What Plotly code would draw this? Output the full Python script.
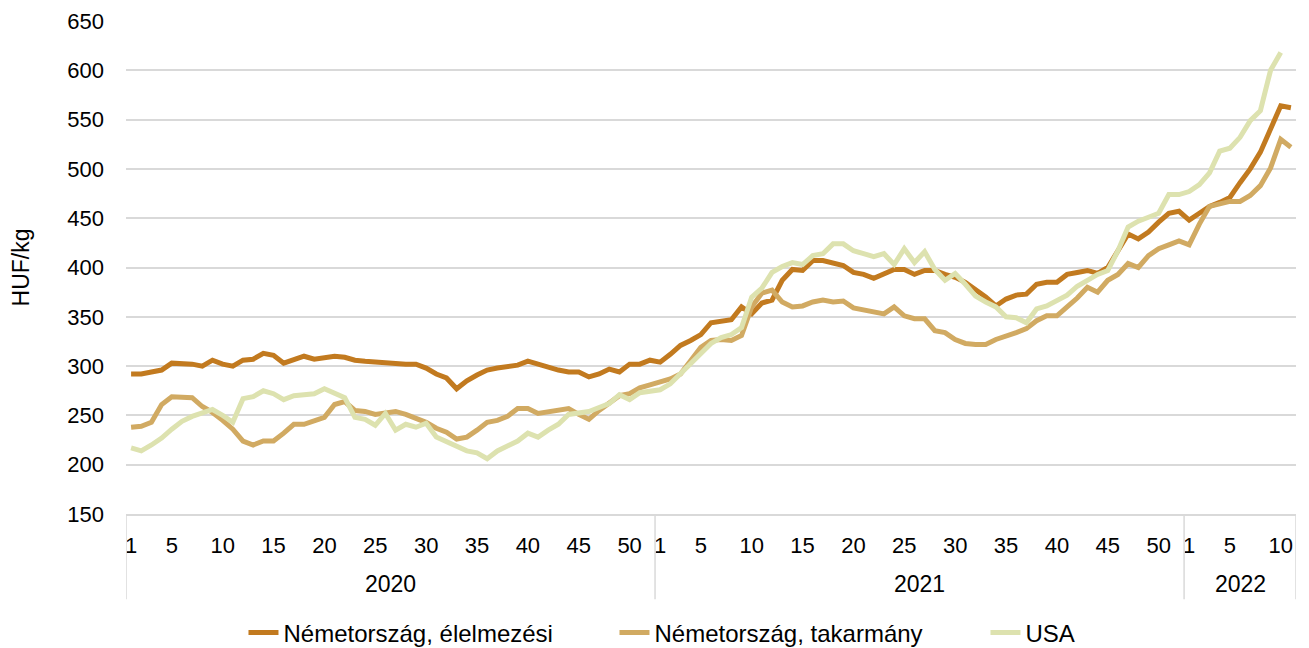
import plotly.graph_objects as go

# ── data, HUF/kg by week ──
YEARS = ["2020", "2021", "2022"]
WEEKS_PER_YEAR = [52, 52, 11]
TICK_WEEKS = [1, 5, 10, 15, 20, 25, 30, 35, 40, 45, 50]

NEMET_ELELMEZESI = [
    292, 292, 294, 296, 303, 303, 302, 300, 306, 302, 300, 306, 307, 313, 311, 303,
    307, 310, 307, 308, 310, 309, 306, 305, 304, 304, 303, 302, 302, 298, 292, 288,
    277, 285, 291, 296, 298, 300, 301, 305, 302, 298, 296, 294, 294, 289, 292, 297,
    294, 302, 302, 306,
    304, 312, 321, 326, 332, 344, 345, 347, 360, 353, 364, 367, 387, 398, 397, 407,
    407, 405, 402, 395, 393, 389, 393, 398, 398, 393, 397, 397, 393, 390, 385, 378,
    370, 361, 368, 372, 373, 383, 385, 385, 393, 395, 397, 394, 400, 417, 434, 429,
    436, 446, 455, 457,
    448, 455, 462, 466, 471, 486, 500, 517, 540, 564, 562,
]
NEMET_TAKARMANY = [
    238, 239, 243, 261, 269, 269, 268, 259, 253, 245, 236, 224, 220, 224, 224, 232,
    241, 241, 244, 248, 261, 264, 255, 254, 251, 252, 254, 251, 247, 243, 237, 233,
    226, 228, 235, 243, 245, 249, 257, 257, 252, 254, 256, 257, 251, 246, 255, 262,
    270, 272, 278, 281,
    284, 287, 292, 305, 319, 326, 327, 326, 331, 360, 374, 377, 365, 360, 361, 365,
    367, 365, 366, 359, 357, 356, 353, 360, 351, 348, 348, 336, 334, 327, 323, 322,
    322, 327, 330, 334, 338, 346, 351, 351, 360, 369, 380, 375, 387, 393, 404, 400,
    412, 419, 423, 427,
    423, 444, 462, 464, 467, 467, 473, 483, 501, 530, 522,
]
USA = [
    217, 214, 220, 227, 236, 244, 249, 253, 256, 250, 243, 267, 269, 275, 272, 266,
    270, 271, 272, 277, 273, 268, 248, 246, 240, 252, 235, 241, 238, 242, 228, 223,
    218, 214, 212, 206, 214, 219, 224, 232, 228, 235, 241, 251, 252, 254, 258, 262,
    271, 266, 273, 275,
    276, 282, 292, 302, 312, 323, 329, 332, 339, 370, 379, 395, 401, 405, 403, 412,
    414, 424, 424, 417, 414, 411, 414, 403, 419, 405, 416, 398, 387, 394, 383, 371,
    365, 360, 350, 349, 344, 358, 361, 367, 372, 381, 387, 393, 397, 417, 441, 447,
    451, 455, 474, 474,
    477, 484, 496, 518, 521, 532, 549, 559, 600, 618,
]

SERIES = [
    ("Németország, élelmezési", NEMET_ELELMEZESI, "#C27A1F"),
    ("Németország, takarmány", NEMET_TAKARMANY, "#D1AA62"),
    ("USA", USA, "#DDE2AF"),
]

FONT = "Arial, Liberation Sans, sans-serif"
GRID = "#D9D9D9"

# category labels "year-week"
cats, week_of = [], []
for year, n in zip(YEARS, WEEKS_PER_YEAR):
    for w in range(1, n + 1):
        cats.append(f"{year}-{w}")
        week_of.append(w)

tickvals = [c for c, w in zip(cats, week_of) if w in TICK_WEEKS]
ticktext = [str(w) for w in week_of if w in TICK_WEEKS]

fig = go.Figure()
for name, vals, color in SERIES:
    fig.add_trace(go.Scatter(x=cats[:len(vals)], y=vals, name=name, mode="lines",
                             line=dict(color=color, width=5)))

# year group dividers + year labels below the week labels
bounds = [-0.5]
for n in WEEKS_PER_YEAR:
    bounds.append(bounds[-1] + n)
for b in bounds:
    fig.add_shape(type="line", xref="x", yref="paper", x0=b, x1=b, y0=0, y1=-0.173,
                  line=dict(color=GRID, width=1.5))
for year, a, b in zip(YEARS, bounds[:-1], bounds[1:]):
    fig.add_annotation(text=year, xref="x", yref="paper", x=(a + b) / 2, y=-0.142,
                       showarrow=False, yanchor="middle", font=dict(size=23, color="#000"))

# the page body has an 8px margin, so the figure is offset by 8px in the window
fig.update_layout(
    width=1301, height=640, margin=dict(l=118, r=13, t=13, b=134, autoexpand=False),
    paper_bgcolor="white", plot_bgcolor="white",
    font=dict(family=FONT, size=22, color="#000"),
    legend=dict(orientation="h", xref="container", yref="container", x=0.181, xanchor="left",
                y=0.0234, yanchor="middle", entrywidth=326, font=dict(size=24),
                bgcolor="rgba(0,0,0,0)"),
)
fig.update_xaxes(type="category", range=[-0.5, len(cats) - 0.5], tickmode="array",
                 tickvals=tickvals, ticktext=ticktext, showgrid=False, ticks="",
                 showline=True, linecolor=GRID, linewidth=1.5, ticklabelstandoff=11,
                 tickfont=dict(size=22), automargin=False)
fig.update_yaxes(range=[150, 650], dtick=50, gridcolor=GRID, gridwidth=1.5, zeroline=False,
                 showline=False, ticks="", ticklabelstandoff=21, tickfont=dict(size=22),
                 automargin=False,
                 title=dict(text="HUF/kg", standoff=34, font=dict(size=23)))

fig.write_html("out.html")
